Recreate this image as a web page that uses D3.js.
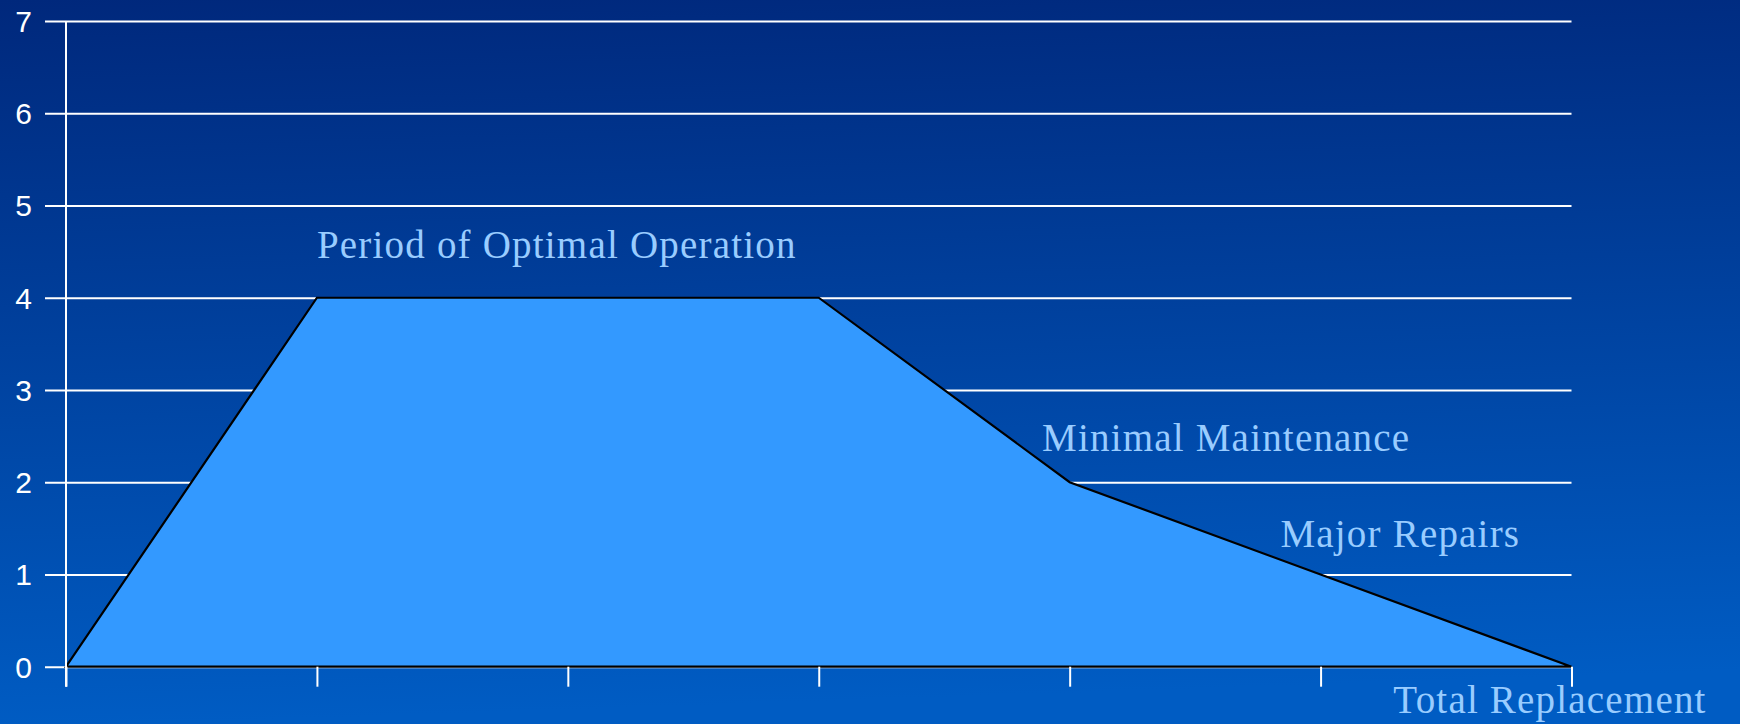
<!DOCTYPE html>
<html>
<head>
<meta charset="utf-8">
<script src="https://cdn.jsdelivr.net/npm/d3@7/dist/d3.min.js"></script>
<style>
  html, body { margin: 0; padding: 0; background: #0040a0; }
  svg { display: block; }
</style>
</head>
<body>
<svg id="chart" width="1740" height="724"></svg>
<script>
// Life-cycle stages of an asset: condition level at each stage
const stages = [0, 1, 2, 3, 4, 5, 6];
const condition = [0, 4, 4, 4, 2, 1, 0];
const yTicks = [0, 1, 2, 3, 4, 5, 6, 7];

// Phase annotations: anchored to stage / value positions
const phaseLabels = [
  { text: "Period of Optimal Operation", stage: 1.0, value: 4.43 },
  { text: "Minimal Maintenance", stage: 3.89, value: 2.34 },
  { text: "Major Repairs", stage: 4.84, value: 1.30 },
  { text: "Total Replacement", stage: 5.29, value: -0.50 }
];

const svg = d3.select("#chart");
const W = 1740, H = 724;

const defs = svg.append("defs");
const grad = defs.append("linearGradient")
  .attr("id", "bg").attr("x1", 0).attr("y1", 0).attr("x2", 0.08).attr("y2", 1);
grad.append("stop").attr("offset", "0%").attr("stop-color", "#00287c");
grad.append("stop").attr("offset", "100%").attr("stop-color", "#005cc3");
svg.append("rect").attr("width", W).attr("height", H).attr("fill", "url(#bg)");

const plotLeft = 66, plotRight = 1571.5, plotTop = 21, plotBottom = 666.7;

const x = d3.scaleLinear().domain([0, 6]).range([plotLeft, plotRight]);
const y = d3.scaleLinear().domain([0, 7]).range([plotBottom, plotTop]);

// Horizontal gridlines with left tick extension
svg.append("g")
  .attr("transform", `translate(${plotRight},0)`)
  .call(d3.axisLeft(y).tickValues(yTicks).tickSize(plotRight - 45).tickFormat(""))
  .call(g => g.select(".domain").remove())
  .call(g => g.selectAll(".tick line").attr("stroke", "#ffffff").attr("stroke-width", 2));

// Y tick labels
svg.append("g")
  .selectAll("text")
  .data(yTicks)
  .join("text")
  .attr("x", 32)
  .attr("y", d => y(d))
  .attr("dy", "0.36em")
  .attr("text-anchor", "end")
  .attr("fill", "#ffffff")
  .attr("font-family", "Liberation Sans, Arial, sans-serif")
  .attr("font-size", 30)
  .text(d => d);

// Condition area with black outline
const area = d3.area()
  .x((d, i) => x(stages[i]))
  .y0(y(0))
  .y1(d => y(d));
svg.append("path")
  .datum(condition)
  .attr("d", area)
  .attr("fill", "#3399ff")
  .attr("stroke", "#000000")
  .attr("stroke-width", 2.2)
  .attr("stroke-linejoin", "miter");

// Y axis line and x ticks
svg.append("line")
  .attr("x1", plotLeft).attr("x2", plotLeft)
  .attr("y1", plotTop).attr("y2", plotBottom + 20)
  .attr("stroke", "#ffffff").attr("stroke-width", 2);

svg.append("g")
  .attr("transform", `translate(0,${plotBottom})`)
  .call(d3.axisBottom(x).tickValues(stages).tickSize(20).tickFormat(""))
  .call(g => g.select(".domain").remove())
  .call(g => g.selectAll(".tick line").attr("stroke", "#ffffff").attr("stroke-width", 2));

// Phase annotations
svg.append("g")
  .selectAll("text")
  .data(phaseLabels)
  .join("text")
  .attr("x", d => x(d.stage))
  .attr("y", d => y(d.value))
  .attr("fill", "#99ccff")
  .attr("font-family", "Liberation Serif, Times New Roman, serif")
  .attr("font-size", 39)
  .attr("letter-spacing", 1.2)
  .text(d => d.text);
</script>
</body>
</html>
